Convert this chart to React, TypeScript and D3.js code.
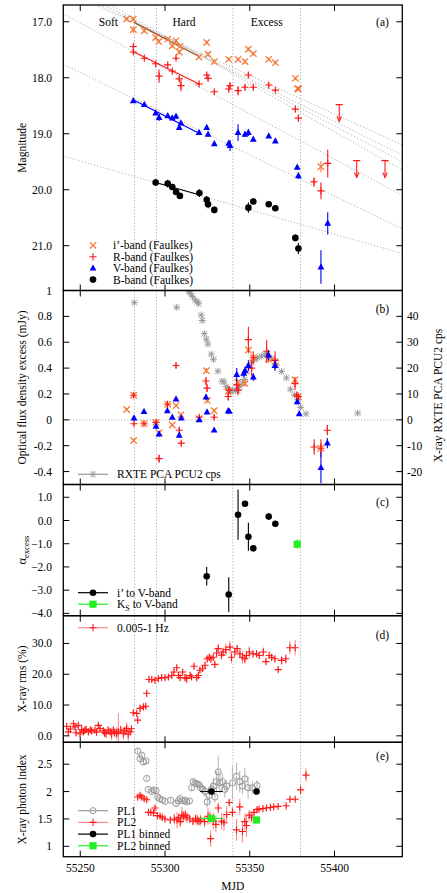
import React from "react";
import * as d3 from "d3";

const W = 447, H = 893;
const FONT = "'Liberation Serif', 'DejaVu Serif', 'Times New Roman', serif";
const FS = 11.5;

// ---------- shared x ----------
const mjdTicks = [55250, 55300, 55350, 55400];
const stateBoundaries = [55282, 55295, 55340, 55380];
const stateLabels = ["Soft", "Hard", "Excess"];
const stateLabelMjd = [55266.6, 55311.2, 55360];

// ---------- panel (a) magnitudes: [mjd, mag, err] ----------
const iBand = [
  [55277.4, 16.95, 0.03], [55281.3, 16.95, 0.03], [55281.3, 17.14, 0.06], [55287.8, 17.16, 0.03],
  [55294.5, 17.28, 0.03], [55296.3, 17.35, 0.04], [55301.6, 17.31, 0.03], [55304.3, 17.43, 0.03],
  [55306.5, 17.34, 0.03], [55308.8, 17.44, 0.03], [55308.4, 17.54, 0.04], [55320.1, 17.63, 0.03],
  [55324.6, 17.37, 0.03], [55325.4, 17.58, 0.04], [55329.1, 17.71, 0.03], [55337.6, 17.67, 0.03],
  [55343.1, 17.67, 0.03], [55347.2, 17.71, 0.04], [55349.2, 17.49, 0.03], [55352.1, 17.57, 0.03],
  [55361.2, 17.67, 0.03], [55365.1, 17.73, 0.03], [55376.9, 18.01, 0.03], [55378.7, 18.20, 0.03],
  [55378.2, 18.19, 0.03], [55392.0, 19.59, 0.1],
];
const rBand = [
  [55281.3, 17.44, 0.03], [55281.3, 17.54, 0.03], [55287.8, 17.65, 0.03], [55294.5, 17.75, 0.03],
  [55301.6, 17.77, 0.03], [55296.5, 17.97, 0.12], [55304.3, 17.88, 0.03], [55306.5, 17.65, 0.03],
  [55308.4, 18.02, 0.05], [55309.4, 18.14, 0.1], [55320.1, 18.11, 0.03], [55324.6, 17.95, 0.04],
  [55325.4, 18.01, 0.04], [55329.1, 18.25, 0.03], [55337.6, 18.20, 0.06], [55338.4, 18.14, 0.05],
  [55343.1, 18.23, 0.08], [55347.2, 18.17, 0.05], [55349.2, 17.95, 0.05], [55352.1, 18.17, 0.04],
  [55361.2, 18.13, 0.04], [55365.1, 18.22, 0.03], [55376.9, 18.56, 0.05], [55378.7, 18.72, 0.06],
  [55387.9, 19.86, 0.08], [55392.0, 20.02, 0.15], [55396.0, 19.53, 0.25],
];
const rUpper = [
  [55402.8, 18.48], [55413.1, 19.48], [55429.8, 19.48],
];
const vBand = [
  [55281.3, 18.41, 0.03], [55287.8, 18.48, 0.03], [55294.5, 18.63, 0.03], [55296.5, 18.71, 0.06],
  [55301.6, 18.68, 0.03], [55304.3, 18.72, 0.04], [55306.5, 18.69, 0.03], [55308.4, 18.89, 0.04],
  [55309.4, 18.81, 0.04], [55320.1, 18.98, 0.03], [55324.6, 18.89, 0.04], [55325.4, 19.01, 0.04],
  [55329.1, 19.18, 0.03], [55337.6, 19.17, 0.05], [55338.4, 19.21, 0.1], [55343.1, 18.98, 0.15],
  [55347.2, 19.01, 0.05], [55349.2, 18.98, 0.06], [55352.1, 19.10, 0.04], [55361.2, 19.04, 0.03],
  [55365.1, 19.13, 0.03], [55378.0, 19.60, 0.04], [55378.7, 19.75, 0.06], [55396.0, 20.60, 0.2],
  [55392.0, 21.38, 0.3],
];
const bBand = [
  [55294.5, 19.87, 0.06], [55301.6, 19.89, 0.07], [55304.3, 19.95, 0.05], [55306.5, 20.04, 0.05],
  [55308.8, 20.11, 0.05], [55320.3, 20.06, 0.07], [55324.6, 20.18, 0.07], [55325.4, 20.26, 0.07],
  [55329.1, 20.36, 0.06], [55349.2, 20.32, 0.09], [55352.1, 20.21, 0.05], [55361.2, 20.26, 0.05],
  [55365.1, 20.33, 0.05], [55376.9, 20.86, 0.06], [55378.7, 21.05, 0.1],
];
// fits over the hard state: [mjd, mag] end points
const iFit = [[55281.7, 17.01], [55320.1, 17.62]];
const rFit = [[55281.7, 17.54], [55320.1, 18.11]];
const vFit = [[55281.7, 18.40], [55320.1, 18.99]];
const bFit = [[55294.5, 19.87], [55320.1, 20.09]];
// extrapolated decays: [mjd0, mag0, mjd1, mag1]
const decayLines = [
  [55258.7, 16.7, 55440, 19.2],
  [55261.7, 16.7, 55440, 19.38],
  [55264.6, 16.7, 55440, 19.5],
  [55268.0, 16.7, 55440, 19.65],
  [55240, 16.86, 55440, 20.1],
  [55240, 17.76, 55440, 20.7],
  [55240, 19.40, 55440, 21.14],
];

// ---------- panel (b) flux excess (mJy): [mjd, val, err] ----------
const iExcess = [
  [55277.4, 0.08, 0.01], [55281.5, 0.19, 0.01], [55281.5, -0.16, 0.01], [55287.7, -0.03, 0.01],
  [55294.6, -0.02, 0.01], [55296.5, -0.10, 0.01], [55301.6, 0.12, 0.01], [55304.3, -0.04, 0.01],
  [55306.5, 0.11, 0.01], [55309.4, 0.04, 0.01], [55320.1, 0.01, 0.01], [55324.4, 0.38, 0.02],
  [55325.0, 0.15, 0.02], [55329.0, 0.07, 0.01], [55337.3, 0.22, 0.02], [55342.9, 0.29, 0.02],
  [55347.2, 0.28, 0.02], [55349.2, 0.54, 0.03], [55352.1, 0.48, 0.02], [55361.0, 0.47, 0.03],
  [55364.9, 0.45, 0.03], [55376.7, 0.31, 0.02], [55378.7, 0.18, 0.02], [55391.9, -0.22, 0.04],
];
const rExcess = [
  [55281.5, 0.19, 0.01], [55281.7, -0.03, 0.01], [55287.6, -0.03, 0.01], [55294.7, -0.02, 0.02],
  [55296.5, -0.30, 0.03], [55301.4, 0.12, 0.02], [55306.5, 0.42, 0.02], [55308.4, -0.08, 0.02],
  [55309.6, -0.18, 0.02], [55320.2, 0.02, 0.02], [55324.2, 0.30, 0.03], [55324.8, 0.245, 0.03],
  [55329.0, 0.02, 0.02], [55337.3, 0.18, 0.03], [55337.8, 0.23, 0.03], [55342.3, 0.27, 0.04],
  [55343.1, 0.23, 0.04], [55349.2, 0.62, 0.1], [55351.1, 0.40, 0.06], [55352.1, 0.48, 0.05],
  [55360.0, 0.53, 0.09], [55364.9, 0.46, 0.07], [55376.7, 0.28, 0.05], [55377.7, 0.19, 0.03],
  [55378.7, 0.18, 0.03], [55388.0, -0.21, 0.06], [55392.0, -0.22, 0.07], [55395.8, -0.08, 0.04],
];
const vExcess = [
  [55281.7, 0.013, 0.01], [55287.6, 0.064, 0.01], [55294.7, -0.05, 0.01], [55296.5, -0.11, 0.02],
  [55301.4, 0.07, 0.01], [55304.3, 0.02, 0.01], [55306.5, 0.16, 0.01], [55308.4, -0.12, 0.02],
  [55309.6, 0.013, 0.01], [55320.2, 0.0, 0.01], [55324.2, 0.175, 0.02], [55324.8, 0.06, 0.01],
  [55329.0, -0.08, 0.01], [55337.3, 0.07, 0.01], [55338.0, 0.065, 0.01], [55342.3, 0.35, 0.05],
  [55346.4, 0.36, 0.03], [55347.2, 0.38, 0.03], [55349.2, 0.42, 0.04], [55352.1, 0.33, 0.03],
  [55361.0, 0.50, 0.04], [55364.9, 0.42, 0.04], [55378.0, 0.14, 0.02], [55379.2, 0.046, 0.01],
  [55392.0, -0.37, 0.12], [55395.8, -0.18, 0.04],
];
// RXTE PCA PCU2 count rate: [mjd, cps]
const xrayCps = [
  [55281.9, 45.3], [55306.9, 43.5], [55314.0, 49.8], [55315.0, 48.9], [55316.2, 47.7], [55317.8, 46.3],
  [55319.0, 45.6], [55319.8, 44.9], [55321.4, 40.5], [55322.0, 38.4], [55323.2, 33.3], [55324.4, 31.2],
  [55325.3, 29.3], [55327.3, 25.4], [55328.6, 23.4], [55331.2, 18.8], [55333.6, 14.9], [55334.8, 14.7],
  [55336.2, 12.9], [55337.6, 11.6], [55338.7, 10.8], [55340.0, 11.5], [55341.5, 11.2], [55342.9, 11.4],
  [55344.0, 12.9], [55345.6, 14.2], [55347.0, 15.6], [55348.2, 18.5], [55349.4, 20.6], [55351.2, 22.2],
  [55352.6, 23.3], [55354.6, 23.9], [55356.8, 24.6], [55358.8, 25.2], [55360.8, 25.0], [55363.0, 23.8],
  [55365.8, 21.2], [55368.8, 18.7], [55371.6, 16.2], [55374.0, 11.8], [55376.4, 9.6], [55378.6, 7.8],
  [55380.0, 4.8], [55383.2, 2.3], [55413.7, 2.6],
];

// ---------- panel (c) spectral index: [mjd, alpha, err] ----------
const alphaIV = [
  [55324.6, -2.40, 0.4], [55337.6, -3.19, 0.75], [55343.1, 0.25, 1.08], [55347.2, 0.72, 0.1],
  [55349.2, -0.70, 0.6], [55352.1, -1.20, 0.1], [55361.2, 0.17, 0.15], [55365.1, -0.14, 0.12],
];
const alphaKV = [[55378.0, -1.02, 0.2]];

// ---------- panel (d) rms: [mjd, rms, err] ----------
const rms = [
  [55242.0, 3.1, 0.8], [55243.0, 1.3, 1.5], [55244.2, 2.2, 1], [55246.0, 3.9, 0.8], [55246.9, 2.9, 1],
  [55247.5, 1.0, 1.2], [55248.9, 3.4, 0.8], [55249.9, 0.7, 1.2], [55250.9, 2.0, 1], [55251.9, 1.3, 1.2],
  [55252.6, 1.8, 1], [55253.4, 2.1, 1], [55254.8, 1.3, 1], [55256.0, 1.9, 1], [55256.8, 1.6, 1],
  [55258.7, 1.9, 1], [55259.6, 1.2, 1], [55260.7, 3.4, 0.8], [55261.7, 2.4, 1], [55263.6, 1.6, 1],
  [55264.3, 1.0, 1.5], [55265.2, 0.8, 1.5], [55266.5, 1.9, 1], [55267.6, 1.3, 1], [55268.5, 0.6, 2],
  [55269.5, 1.9, 1], [55270.3, 1.0, 1.5], [55271.5, 0.8, 2], [55272.5, 1.3, 6], [55273.9, 1.9, 1.5],
  [55275.4, 0.8, 2], [55276.3, 1.6, 1.5], [55277.4, 2.4, 2], [55278.3, 0.5, 2.5], [55279.4, 1.3, 1],
  [55280.2, 2.3, 1], [55281.3, 7.5, 0.8], [55283.3, 7.3, 0.8], [55283.9, 5.1, 0.8], [55285.3, 8.9, 1],
  [55287.3, 9.4, 1], [55288.6, 9.6, 1], [55289.2, 13.8, 0.8], [55290.6, 18.3, 0.8], [55292.2, 18.3, 0.8],
  [55294.1, 18.1, 0.8], [55296.1, 18.6, 0.8], [55298.0, 18.9, 0.8], [55300.0, 18.9, 0.8], [55302.0, 19.1, 0.8],
  [55304.0, 19.6, 0.8], [55305.3, 20.7, 1], [55306.9, 22.1, 1], [55307.9, 19.6, 1], [55308.9, 18.9, 1],
  [55310.4, 20.7, 1], [55311.8, 18.9, 1], [55312.8, 18.6, 1.5], [55314.8, 19.6, 1], [55315.7, 19.1, 1],
  [55317.1, 22.6, 0.8], [55318.7, 18.9, 1], [55319.7, 19.6, 1], [55320.6, 21.3, 1], [55322.2, 21.8, 1],
  [55323.6, 22.9, 1], [55324.9, 25.0, 1], [55326.1, 25.5, 1], [55327.1, 25.0, 1.2], [55328.5, 25.5, 1],
  [55329.4, 23.2, 1], [55330.4, 26.9, 1.5], [55331.4, 28.3, 1.5], [55333.3, 26.2, 1.5], [55334.3, 27.2, 1.5],
  [55335.9, 28.0, 2], [55338.3, 28.8, 2], [55339.2, 25.5, 2], [55341.2, 27.2, 1.5], [55342.6, 28.3, 1.2],
  [55344.2, 26.6, 1.5], [55345.7, 25.5, 2], [55347.1, 25.0, 1.5], [55348.1, 26.1, 1.5], [55349.7, 27.2, 2],
  [55352.0, 26.6, 1], [55354.0, 26.6, 1], [55355.6, 26.1, 1], [55358.0, 27.2, 1.5], [55359.5, 24.1, 1],
  [55361.5, 26.1, 1], [55362.9, 25.5, 1], [55364.8, 25.0, 1], [55366.8, 21.5, 0.8], [55368.8, 24.5, 1.5],
  [55371.3, 25.0, 1.5], [55373.7, 28.6, 2], [55376.8, 28.6, 2.5],
];

// ---------- panel (e) photon index: [mjd, index, err] ----------
const pl1 = [
  [55283.9, 2.74, 0.05], [55285.3, 2.60, 0.05], [55286.3, 2.66, 0.05], [55287.3, 2.54, 0.05],
  [55288.8, 2.56, 0.05], [55289.2, 2.24, 0.04], [55290.2, 2.04, 0.04], [55292.2, 2.00, 0.04],
  [55293.5, 2.03, 0.04], [55294.7, 2.02, 0.04], [55295.7, 1.90, 0.04], [55296.7, 1.87, 0.04],
  [55298.4, 1.85, 0.04], [55300.0, 1.82, 0.04], [55303.3, 1.84, 0.04], [55306.5, 1.78, 0.04],
  [55307.9, 1.83, 0.04], [55308.8, 1.87, 0.04], [55310.4, 1.83, 0.04], [55311.8, 1.84, 0.04],
  [55312.8, 1.81, 0.04], [55314.4, 1.83, 0.04], [55315.7, 2.07, 0.06], [55316.7, 2.18, 0.06],
  [55317.7, 2.15, 0.06], [55319.1, 2.14, 0.06], [55320.3, 2.12, 0.06], [55321.0, 2.07, 0.08],
  [55322.2, 2.04, 0.08], [55323.6, 2.00, 0.1], [55324.9, 1.81, 0.1], [55326.1, 1.93, 0.15],
  [55327.5, 2.04, 0.12], [55328.5, 2.10, 0.15], [55329.4, 1.90, 0.1], [55330.4, 2.18, 0.2],
  [55331.4, 2.36, 0.3], [55332.4, 2.16, 0.2], [55333.9, 2.18, 0.15], [55335.3, 2.04, 0.15],
  [55336.3, 2.10, 0.1], [55339.8, 2.16, 0.3], [55342.2, 2.28, 0.25], [55344.1, 2.18, 0.2],
  [55345.7, 2.10, 0.15], [55347.1, 2.23, 0.2], [55349.0, 2.07, 0.2], [55351.6, 2.07, 0.12],
  [55354.3, 2.11, 0.1],
];
const pl2 = [
  [55283.9, 1.90, 0.05], [55285.3, 1.93, 0.05], [55286.3, 1.90, 0.05], [55287.7, 1.87, 0.05],
  [55289.2, 1.85, 0.05], [55290.2, 1.62, 0.04], [55291.6, 1.62, 0.04], [55293.2, 1.61, 0.04],
  [55294.1, 1.70, 0.05], [55295.5, 1.56, 0.04], [55297.1, 1.55, 0.04], [55298.4, 1.53, 0.04],
  [55300.0, 1.50, 0.05], [55303.1, 1.48, 0.06], [55305.5, 1.50, 0.1], [55307.1, 1.48, 0.15],
  [55308.1, 1.52, 0.08], [55309.0, 1.45, 0.1], [55310.0, 1.57, 0.15], [55311.0, 1.55, 0.1],
  [55312.0, 1.57, 0.1], [55313.0, 1.53, 0.1], [55314.6, 1.50, 0.08], [55316.5, 1.46, 0.08],
  [55318.0, 1.50, 0.08], [55319.0, 1.48, 0.1], [55320.0, 1.46, 0.08], [55321.0, 1.48, 0.1],
  [55323.4, 1.45, 0.1], [55325.4, 1.55, 0.15], [55326.5, 1.53, 0.12], [55326.9, 1.14, 0.15],
  [55328.5, 1.46, 0.15], [55330.0, 1.40, 0.15], [55331.4, 1.70, 0.1], [55333.4, 1.46, 0.15],
  [55334.8, 1.43, 0.15], [55336.4, 1.58, 0.15], [55337.9, 1.80, 0.05], [55339.8, 1.62, 0.1],
  [55342.2, 1.30, 0.2], [55344.1, 1.72, 0.15], [55345.7, 1.27, 0.2], [55347.1, 1.45, 0.15],
  [55348.1, 1.38, 0.2], [55349.7, 1.57, 0.1], [55351.1, 1.53, 0.1], [55352.5, 1.62, 0.05],
  [55354.3, 1.67, 0.04], [55355.5, 1.68, 0.03], [55357.8, 1.69, 0.03], [55359.8, 1.70, 0.03],
  [55362.2, 1.71, 0.03], [55364.1, 1.72, 0.03], [55366.7, 1.73, 0.03], [55371.5, 1.74, 0.03],
  [55373.7, 1.86, 0.04], [55376.8, 1.86, 0.04], [55380.0, 2.03, 0.08], [55383.2, 2.30, 0.12],
];
// binned: [mjd, index, mjdLo, mjdHi, err]
const pl1Binned = [[55327.4, 2.0, 55320.7, 55334.0, 0.02], [55354.0, 2.0, 55353.0, 55355.0, 0.02]];
const pl2Binned = [[55327.4, 1.51, 55320.7, 55334.0, 0.02], [55354.0, 1.48, 55353.0, 55355.0, 0.02]];

// ---------- axis ticks ----------
const aTicks = [17, 18, 19, 20, 21];
const bTicks = [1, 0.8, 0.6, 0.4, 0.2, 0, -0.2, -0.4];
const b2Ticks = [40, 30, 20, 10, 0, -10, -20];
const cTicks = [1, 0, -1, -2, -3, -4];
const dTicks = [0, 10, 20, 30];
const eTicks = [1, 1.5, 2, 2.5];

// ---------- colours ----------
const ORANGE = "#f47a3a";
const RED = "#ff1a1a";
const LRED = "#ff8c8c";
const BLUE = "#0000ff";
const GRAY = "#999999";
const GREEN = "#22ee22";
const DOT = "#a8a8a8";

// ---------- scales ----------
const X0 = 63.3, X1 = 402.3;
const x = d3.scaleLinear().domain([55240, 55440]).range([X0, X1]);
const P = {
  a: [5, 290.5], b: [290.5, 484.5], c: [484.5, 615.7], d: [615.7, 742.3], e: [742.3, 856.7],
};
const yA = d3.scaleLinear().domain([16.7, 21.8]).range([P.a[0], P.a[1]]);
const yB = d3.scaleLinear().domain([-0.5, 1]).range([P.b[1], P.b[0]]);
const yB2 = d3.scaleLinear().domain([-25, 50]).range([P.b[1], P.b[0]]);
const yC = d3.scaleLinear().domain([-4.1, 1.55]).range([P.c[1], P.c[0]]);
const yD = d3.scaleLinear().domain([-2.1, 39]).range([P.d[1], P.d[0]]);
const yE = d3.scaleLinear().domain([0.81, 2.9]).range([P.e[1], P.e[0]]);

type MarkerType = "x" | "+" | "tri" | "circ" | "ocirc" | "star" | "sq";

function marker(t: MarkerType, cx: number, cy: number, color: string, key: string | number) {
  const s = 3.2;
  switch (t) {
    case "x":
      return <path key={key} d={`M${cx - s},${cy - s}L${cx + s},${cy + s}M${cx - s},${cy + s}L${cx + s},${cy - s}`} stroke={color} strokeWidth={1.3} fill="none" />;
    case "+":
      return <path key={key} d={`M${cx - 3.6},${cy}H${cx + 3.6}M${cx},${cy - 3.6}V${cy + 3.6}`} stroke={color} strokeWidth={1.1} fill="none" />;
    case "tri":
      return <path key={key} d={`M${cx},${cy - 3.8}L${cx + 3.4},${cy + 2.4}L${cx - 3.4},${cy + 2.4}Z`} fill={color} />;
    case "circ":
      return <circle key={key} cx={cx} cy={cy} r={3.3} fill={color} />;
    case "ocirc":
      return <circle key={key} cx={cx} cy={cy} r={3.1} fill="none" stroke={color} strokeWidth={1} />;
    case "star": {
      const q = 2.8;
      return <path key={key} d={`M${cx - q},${cy - q}L${cx + q},${cy + q}M${cx - q},${cy + q}L${cx + q},${cy - q}M${cx - 3.4},${cy}H${cx + 3.4}M${cx},${cy - 3.4}V${cy + 3.4}`} stroke={color} strokeWidth={1} fill="none" />;
    }
    case "sq":
      return <rect key={key} x={cx - 3.6} y={cy - 3.6} width={7.2} height={7.2} fill={color} />;
  }
}

function series(data: number[][], ys: d3.ScaleLinear<number, number>, t: MarkerType, color: string, errColor: string, id: string) {
  return (
    <g key={id}>
      {data.map((d, i) => (
        d[2] ? <line key={"e" + i} x1={x(d[0])} x2={x(d[0])} y1={ys(d[1] - d[2])} y2={ys(d[1] + d[2])} stroke={errColor} strokeWidth={1.1} /> : null
      ))}
      {data.map((d, i) => marker(t, x(d[0]), ys(d[1]), color, "m" + i))}
    </g>
  );
}

function Frame({ top, bottom, id }: { top: number; bottom: number; id: string }) {
  const tl = 6;
  return (
    <g key={id}>
      {stateBoundaries.map((m, i) => (
        <line key={"v" + i} x1={x(m)} x2={x(m)} y1={top} y2={bottom} stroke={DOT} strokeWidth={0.9} strokeDasharray="1.2,2" />
      ))}
      {mjdTicks.map((m, i) => (
        <g key={"t" + i}>
          <line x1={x(m)} x2={x(m)} y1={top} y2={top + tl} stroke="#000" strokeWidth={1} />
          <line x1={x(m)} x2={x(m)} y1={bottom} y2={bottom - tl} stroke="#000" strokeWidth={1} />
        </g>
      ))}
    </g>
  );
}

function YTicks({ ticks, ys, fmt, left = true, right = true, labels = true }: any) {
  return (
    <g>
      {ticks.map((t: number, i: number) => (
        <g key={i}>
          {left && <line x1={X0} x2={X0 + 6} y1={ys(t)} y2={ys(t)} stroke="#000" strokeWidth={1} />}
          {right && <line x1={X1} x2={X1 - 6} y1={ys(t)} y2={ys(t)} stroke="#000" strokeWidth={1} />}
          {labels && (
            <text x={52} y={ys(t)} dy="0.35em" textAnchor="end" fontSize={FS} fontFamily={FONT}>{fmt(t)}</text>
          )}
        </g>
      ))}
    </g>
  );
}

function LegendRow({ y, text, color, lineColor, t, tx = 117, children }: any) {
  return (
    <g>
      <line x1={78} x2={108} y1={y} y2={y} stroke={lineColor} strokeWidth={1.2} />
      {marker(t, 93, y, color, "lm")}
      <text x={tx} y={y} dy="0.35em" fontSize={FS} fontFamily={FONT}>{children ?? text}</text>
    </g>
  );
}

function clipRect(id: string, p: number[]) {
  return (
    <clipPath id={id} key={id}>
      <rect x={X0} y={p[0]} width={X1 - X0} height={p[1] - p[0]} />
    </clipPath>
  );
}

export default function App() {
  const f1 = d3.format(".1f");
  const fPlain = (v: number) => String(+v.toFixed(1));
  const upperArrows = rUpper.map((d, i) => {
    const cx = x(d[0]);
    const y0 = yA(d[1]);
    const y1 = yA(d[1] + 0.3);
    return (
      <g key={"u" + i}>
        <line x1={cx} x2={cx} y1={y0} y2={y1} stroke={RED} strokeWidth={1.1} />
        <path d={`M${cx - 2.2},${y1 - 5}L${cx},${y1}L${cx + 2.2},${y1 - 5}`} stroke={RED} fill="none" strokeWidth={1.1} />
        <path d={`M${cx - 3.6},${y0}H${cx + 3.6}`} stroke={RED} strokeWidth={1.1} />
      </g>
    );
  });
  const fitLine = (f: number[][], c: string, k: string) => (
    <line key={k} x1={x(f[0][0])} y1={yA(f[0][1])} x2={x(f[1][0])} y2={yA(f[1][1])} stroke={c} strokeWidth={1.2} />
  );

  return (
    <svg width={W} height={H} style={{ position: "absolute", left: 0, top: 0, background: "#fff" }} fontFamily={FONT}>
      <defs>
        {clipRect("ca", P.a)}
        {clipRect("cb", P.b)}
        {clipRect("cc", P.c)}
        {clipRect("cd", P.d)}
        {clipRect("ce", P.e)}
      </defs>
      <rect x={0} y={0} width={W} height={H} fill="#fff" />

      {/* ---------------- panel a ---------------- */}
      <Frame top={P.a[0]} bottom={P.a[1]} id="fa" />
      <g clipPath="url(#ca)">
        {decayLines.map((l, i) => (
          <line key={i} x1={x(l[0])} y1={yA(l[1])} x2={x(l[2])} y2={yA(l[3])} stroke={DOT} strokeWidth={0.9} strokeDasharray="1.2,2" />
        ))}
        {fitLine(iFit, "#9a4a20", "fi")}
        {fitLine(rFit, RED, "fr")}
        {fitLine(vFit, BLUE, "fv")}
        {fitLine(bFit, "#000", "fb")}
        {series(iBand, yA, "x", ORANGE, ORANGE, "ia")}
        {series(rBand, yA, "+", RED, RED, "ra")}
        {upperArrows}
        {series(vBand, yA, "tri", BLUE, BLUE, "va")}
        {series(bBand, yA, "circ", "#000", "#000", "ba")}
      </g>
      <YTicks ticks={aTicks} ys={yA} fmt={f1} />
      {stateLabels.map((s, i) => (
        <text key={s} x={x(stateLabelMjd[i])} y={P.a[0] + 17} dy="0.35em" textAnchor="middle" fontSize={FS}>{s}</text>
      ))}
      <text x={382.5} y={P.a[0] + 17} dy="0.35em" textAnchor="middle" fontSize={FS}>(a)</text>
      <LegendRow y={245.3} t="x" color={ORANGE} lineColor="none" tx={113} text="i’-band (Faulkes)" />
      <LegendRow y={256.8} t="+" color={RED} lineColor="none" tx={113} text="R-band (Faulkes)" />
      <LegendRow y={268.2} t="tri" color={BLUE} lineColor="none" tx={113} text="V-band (Faulkes)" />
      <LegendRow y={279.6} t="circ" color="#000" lineColor="none" tx={113} text="B-band (Faulkes)" />
      <text transform={`translate(22,${(P.a[0] + P.a[1]) / 2}) rotate(-90)`} textAnchor="middle" dy="0.35em" fontSize={FS}>Magnitude</text>

      {/* ---------------- panel b ---------------- */}
      <Frame top={P.b[0]} bottom={P.b[1]} id="fb" />
      <line x1={X0} x2={X1} y1={yB(0)} y2={yB(0)} stroke={DOT} strokeWidth={0.9} strokeDasharray="1.2,2" />
      <g clipPath="url(#cb)">
        {xrayCps.map((d, i) => marker("star", x(d[0]), yB2(d[1]), GRAY, "s" + i))}
        {series(iExcess, yB, "x", ORANGE, ORANGE, "ib")}
        {series(rExcess, yB, "+", RED, RED, "rb")}
        {series(vExcess, yB, "tri", BLUE, BLUE, "vb")}
      </g>
      <YTicks ticks={bTicks} ys={yB} fmt={fPlain} right={false} />
      <YTicks ticks={b2Ticks} ys={yB2} fmt={fPlain} left={false} labels={false} />
      {b2Ticks.map((t) => (
        <text key={t} x={407} y={yB2(t)} dy="0.35em" fontSize={FS}>{String(t)}</text>
      ))}
      <text x={382.5} y={308.5} dy="0.35em" textAnchor="middle" fontSize={FS}>(b)</text>
      <LegendRow y={474.3} t="star" color={GRAY} lineColor={GRAY} text="RXTE PCA PCU2 cps" />
      <text transform={`translate(22,${(P.b[0] + P.b[1]) / 2}) rotate(-90)`} textAnchor="middle" dy="0.35em" fontSize={FS}>Optical flux density excess (mJy)</text>
      <text transform={`translate(438,${(P.b[0] + P.b[1]) / 2 + 8}) rotate(-90)`} textAnchor="middle" dy="0.35em" fontSize={FS}>X-ray RXTE PCA PCU2 cps</text>

      {/* ---------------- panel c ---------------- */}
      <Frame top={P.c[0]} bottom={P.c[1]} id="fc" />
      <g clipPath="url(#cc)">
        {series(alphaIV, yC, "circ", "#000", "#000", "ac")}
        {series(alphaKV, yC, "sq", GREEN, GREEN, "kc")}
      </g>
      <YTicks ticks={cTicks} ys={yC} fmt={f1} />
      <text x={382.5} y={502.3} dy="0.35em" textAnchor="middle" fontSize={FS}>(c)</text>
      <LegendRow y={592.7} t="circ" color="#000" lineColor="#000" text="i’ to V-band" />
      <LegendRow y={604.2} t="sq" color={GREEN} lineColor={GREEN}>
        K<tspan fontSize={8} dy="3">S</tspan><tspan dy="-3"> to V-band</tspan>
      </LegendRow>
      <text transform={`translate(22,${(P.c[0] + P.c[1]) / 2}) rotate(-90)`} textAnchor="middle" dy="0.35em" fontSize={FS + 1}>
        α<tspan fontSize={8.5} dy="3">excess</tspan>
      </text>

      {/* ---------------- panel d ---------------- */}
      <Frame top={P.d[0]} bottom={P.d[1]} id="fd" />
      <g clipPath="url(#cd)">
        {series(rms, yD, "+", RED, LRED, "rd")}
      </g>
      <YTicks ticks={dTicks} ys={yD} fmt={f1} />
      <text x={382.5} y={635} dy="0.35em" textAnchor="middle" fontSize={FS}>(d)</text>
      <LegendRow y={627.7} t="+" color={RED} lineColor={LRED} text="0.005-1 Hz" />
      <text transform={`translate(22,${(P.d[0] + P.d[1]) / 2}) rotate(-90)`} textAnchor="middle" dy="0.35em" fontSize={FS}>X-ray rms (%)</text>

      {/* ---------------- panel e ---------------- */}
      <Frame top={P.e[0]} bottom={P.e[1]} id="fe" />
      <g clipPath="url(#ce)">
        {series(pl1, yE, "ocirc", GRAY, "#bbbbbb", "p1")}
        {series(pl2, yE, "+", RED, LRED, "p2")}
        {pl1Binned.map((d, i) => (
          <g key={"b1" + i}>
            <line x1={x(d[2])} x2={x(d[3])} y1={yE(d[1])} y2={yE(d[1])} stroke="#000" strokeWidth={1.1} />
            {marker("circ", x(d[0]), yE(d[1]), "#000", "b1m" + i)}
          </g>
        ))}
        {pl2Binned.map((d, i) => (
          <g key={"b2" + i}>
            <line x1={x(d[2])} x2={x(d[3])} y1={yE(d[1])} y2={yE(d[1])} stroke={GREEN} strokeWidth={1.1} />
            {marker("sq", x(d[0]), yE(d[1]), GREEN, "b2m" + i)}
          </g>
        ))}
      </g>
      <YTicks ticks={eTicks} ys={yE} fmt={fPlain} />
      <text x={382.5} y={756} dy="0.35em" textAnchor="middle" fontSize={FS}>(e)</text>
      <LegendRow y={810.7} t="ocirc" color={GRAY} lineColor={GRAY} text="PL1" />
      <LegendRow y={822.4} t="+" color={RED} lineColor={LRED} text="PL2" />
      <LegendRow y={834.1} t="circ" color="#000" lineColor="#000" text="PL1 binned" />
      <LegendRow y={845.8} t="sq" color={GREEN} lineColor={GREEN} text="PL2 binned" />
      <text transform={`translate(22,${(P.e[0] + P.e[1]) / 2}) rotate(-90)`} textAnchor="middle" dy="0.35em" fontSize={FS}>X-ray photon index</text>

      {/* x tick labels + title */}
      {mjdTicks.map((m) => (
        <text key={m} x={x(m)} y={868} dy="0.35em" textAnchor="middle" fontSize={FS}>{m}</text>
      ))}
      <text x={(X0 + X1) / 2} y={886} dy="0.35em" textAnchor="middle" fontSize={FS}>MJD</text>

      {/* frames */}
      {Object.values(P).map((p, i) => (
        <rect key={"fr" + i} x={X0} y={p[0]} width={X1 - X0} height={p[1] - p[0]} fill="none" stroke="#000" strokeWidth={1.3} />
      ))}
    </svg>
  );
}
